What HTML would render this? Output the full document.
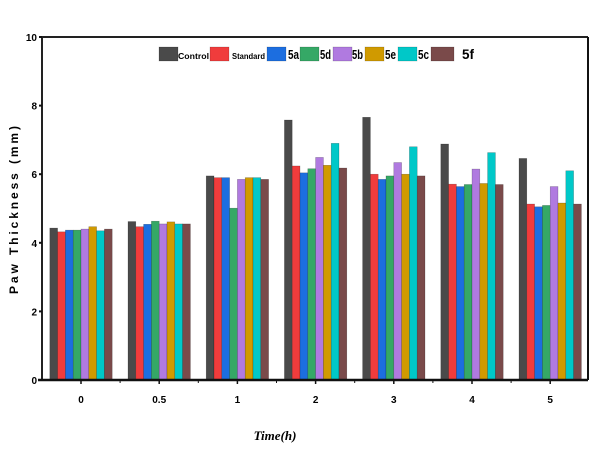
<!DOCTYPE html>
<html><head><meta charset="utf-8"><style>
body{margin:0;background:#fff;}
svg text{font-family:"Liberation Sans",sans-serif;font-weight:bold;}
</style></head><body>
<svg id="chart" width="603" height="455" viewBox="0 0 603 455">
<rect x="0" y="0" width="603" height="455" fill="#fff"/>
<g id="bars"></g>
<g id="axes"></g>
<g id="legend"></g>
<text x="18" y="210" transform="rotate(-90 18 210)" text-anchor="middle" font-size="12" textLength="168" lengthAdjust="spacing">Paw Thickness (mm)</text>
<text x="275" y="440" text-anchor="middle" font-size="13" style="font-family:'Liberation Serif',serif;font-style:italic;font-weight:bold">Time(h)</text>
</svg>
<script>
const categories = ["0","0.5","1","2","3","4","5"];
const seriesNames = ["Control","Standard","5a","5d","5b","5e","5c","5f"];
const colors = ["#4a4a4a","#f03c3c","#1c6ee0","#35a866","#b07ae0","#d09a00","#00c8c8","#7a4a4a"];
const control  = [4.43,4.62,5.95,7.58,7.66,6.88,6.46];
const standard = [4.32,4.47,5.90,6.24,6.00,5.71,5.13];
const s5a      = [4.37,4.54,5.90,6.04,5.85,5.64,5.05];
const s5d      = [4.37,4.63,5.01,6.16,5.95,5.70,5.09];
const s5b      = [4.40,4.55,5.85,6.49,6.34,6.15,5.64];
const s5e      = [4.47,4.61,5.90,6.26,6.00,5.73,5.16];
const s5c      = [4.35,4.55,5.90,6.90,6.80,6.63,6.10];
const s5f      = [4.40,4.55,5.85,6.18,5.95,5.70,5.13];
const yTicks = [0,2,4,6,8,10];
const series = [control,standard,s5a,s5d,s5b,s5e,s5c,s5f];

const NS="http://www.w3.org/2000/svg";
const X0=42,X1=588,Y0=380,YT=37,ymax=10;
const yScale=v=>Y0-(Y0-YT)*v/ymax;
const step=78.2, first=81;
const xScale=i=>first+i*step;
const bw=7.8;
function mk(tag,attrs,parent){const e=document.createElementNS(NS,tag);for(const k in attrs)e.setAttribute(k,attrs[k]);parent.appendChild(e);return e;}
const gb=document.getElementById('bars');
series.forEach((vals,s)=>{
  vals.forEach((v,i)=>{
    const x=xScale(i)-4*bw+s*bw;
    const r=mk('rect',{x:x,y:yScale(v),width:bw,height:Y0-yScale(v),fill:colors[s],stroke:'rgba(0,0,0,0.35)','stroke-width':0.5},gb);
    
    
  });
});
const ga=document.getElementById('axes');
mk('line',{x1:X0,y1:YT,x2:X1,y2:YT,stroke:'#222','stroke-width':2},ga);
mk('line',{x1:X0,y1:YT,x2:X0,y2:Y0,stroke:'#222','stroke-width':2},ga);
mk('line',{x1:X1,y1:YT,x2:X1,y2:Y0,stroke:'#111','stroke-width':2},ga);
mk('line',{x1:X0-4,y1:Y0,x2:X1,y2:Y0,stroke:'#111','stroke-width':2.5},ga);
yTicks.forEach(t=>{
  const y=yScale(t);
  mk('line',{x1:X0-3,y1:y,x2:X0,y2:y,stroke:'#111','stroke-width':2},ga);
  const tx=mk('text',{x:X0-5,y:y+4,'text-anchor':'end','font-size':10},ga);
  tx.textContent=t;
  
  
});
categories.forEach((c,i)=>{
  const x=xScale(i);
  mk('line',{x1:x,y1:Y0,x2:x,y2:Y0+4,stroke:'#111','stroke-width':1.5},ga);
  if(i<categories.length-1) mk('line',{x1:x+step/2,y1:Y0,x2:x+step/2,y2:Y0+3,stroke:'#111','stroke-width':1},ga);
  const tx=mk('text',{x:x,y:Y0+23,'text-anchor':'middle','font-size':10},ga);
  tx.textContent=c;
  
  
});
const gl=document.getElementById('legend');
const lx=[159,210,267,300,333,365,398,431];
const tw=[[178,'Control',8,31],[232,'Standard',8,33],[288,'5a',13,11],[320,'5d',13,11],[352,'5b',13,11],[385,'5e',13,11],[418,'5c',13,11],[462,'5f',14,12]];
seriesNames.forEach((n,s)=>{
  const r=mk('rect',{x:lx[s],y:47,width:(s==7?23:19),height:14,fill:colors[s],stroke:'rgba(0,0,0,0.3)','stroke-width':0.5},gl);
  
  
  const t=mk('text',{x:tw[s][0],y:59,'font-size':tw[s][2],textLength:tw[s][3],lengthAdjust:'spacingAndGlyphs'},gl);
  t.textContent=tw[s][1];
  
  
});
</script>
</body></html>
